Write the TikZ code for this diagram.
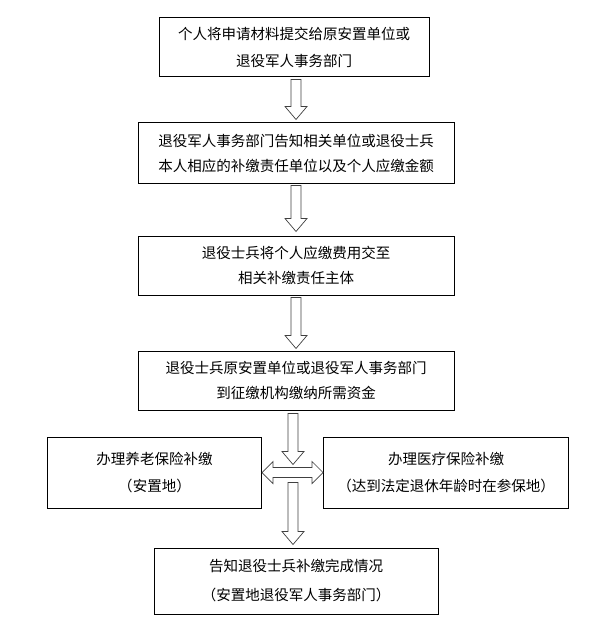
\documentclass[tikz,border=0pt]{standalone}
\usepackage{fontspec}
\newfontfamily\cjk{Noto Sans CJK SC}
\usetikzlibrary{positioning,calc}

\begin{document}
\begin{tikzpicture}[
  x=1bp, y=1bp,
  every node/.style={font=\cjk\fontsize{14.5bp}{25bp}\selectfont},
  box/.style={draw, line width=1bp, align=center, inner sep=0pt,
              minimum height=59bp},
  dnarrow/.style={draw=black!75, line width=0.7bp, fill=white,
    to path={let \p1=(\tikztostart), \p2=(\tikztotarget) in
      ({\x1-5bp},\y1) -- ({\x1+5bp},\y1) -- ({\x1+5bp},{\y2+13bp})
      -- ({\x1+11bp},{\y2+13bp}) -- (\x1,\y2) -- ({\x1-11bp},{\y2+13bp})
      -- ({\x1-5bp},{\y2+13bp}) -- cycle}},
  lrarrow/.style={draw=black!75, line width=0.7bp, fill=white,
    to path={let \p1=(\tikztostart), \p2=(\tikztotarget) in
      (\x1,\y1) -- ({\x1+11bp},{\y1+11bp}) -- ({\x1+11bp},{\y1+5bp})
      -- ({\x2-11bp},{\y1+5bp}) -- ({\x2-11bp},{\y1+11bp}) -- (\x2,\y1)
      -- ({\x2-11bp},{\y1-11bp}) -- ({\x2-11bp},{\y1-5bp})
      -- ({\x1+11bp},{\y1-5bp}) -- ({\x1+11bp},{\y1-11bp}) -- cycle}},
]
\useasboundingbox (0,0) rectangle (595,-632);
\node[box, minimum width=270bp] (apply) at (294,-47.5)
  {个人将申请材料提交给原安置单位或\\[2bp]退役军人事务部门};
\node[box, minimum width=316bp, minimum height=60bp, below=45bp of apply, xshift=2bp] (notify)
  {退役军人事务部门告知相关单位或退役士兵\\本人相应的补缴责任单位以及个人应缴金额};
\node[box, minimum width=316bp, below=52bp of notify] (payself)
  {退役士兵将个人应缴费用交至\\相关补缴责任主体};
\node[box, minimum width=316bp, below=55bp of payself] (remit)
  {退役士兵原安置单位或退役军人事务部门\\到征缴机构缴纳所需资金};
\coordinate[below=62bp of remit, xshift=-3bp] (hub);
\node[box, minimum width=214bp, minimum height=71bp, left=31bp of hub] (pension)
  {办理养老保险补缴\\[2bp]（安置地）};
\node[box, minimum width=245bp, minimum height=71bp, right=30bp of hub] (medical)
  {办理医疗保险补缴\\[2bp]（达到法定退休年龄时在参保地）};
\node[box, minimum width=284bp, minimum height=66bp, below=75bp of hub, xshift=3bp] (inform)
  {告知退役士兵补缴完成情况\\[4bp]（安置地退役军人事务部门）};
\draw[dnarrow] ($(notify.north |- apply.south)+(0,-2)$) to ($(notify.north)+(0,3)$);
\draw[dnarrow] ($(notify.south)+(0,-2)$) to ($(payself.north)+(0,4)$);
\draw[dnarrow] ($(payself.south)+(0,-2)$) to ($(remit.north)+(0,2)$);
\draw[dnarrow] ($(hub |- remit.south)+(0,-3)$) to ($(hub)+(0,8)$);
\draw[dnarrow] ($(hub)+(0,-10)$) to ($(hub |- inform.north)+(0,3)$);
\draw[lrarrow] (pension.east) to (medical.west);
\end{tikzpicture}
\end{document}
